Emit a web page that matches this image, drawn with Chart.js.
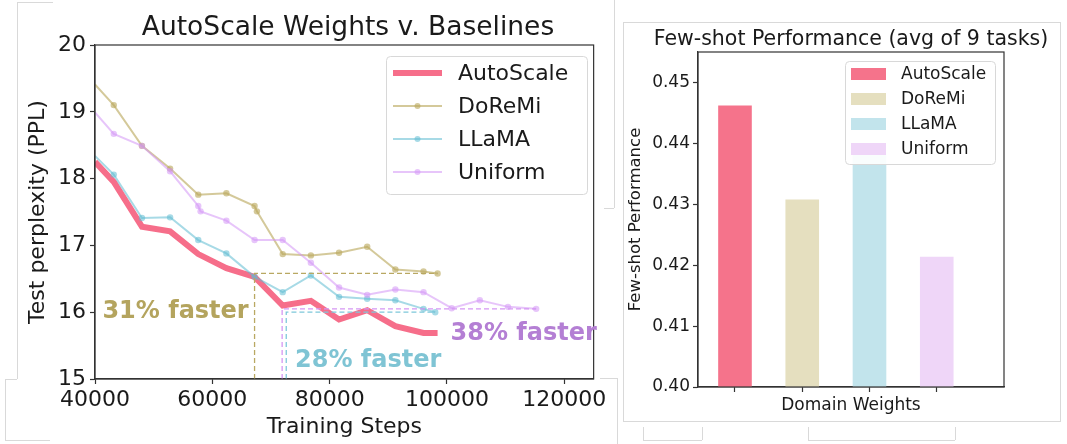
<!DOCTYPE html>
<html>
<head>
<meta charset="utf-8">
<script src="https://cdn.jsdelivr.net/npm/chart.js"></script>
<style>
  html, body { margin: 0; padding: 0; background: #fff; }
  #wrap { position: relative; width: 1067px; height: 444px; overflow: hidden; }
  canvas { position: absolute; top: 0; }
  #lossChart { left: 0; }
  #fewshotChart { left: 610px; }
  .edge { position: absolute; background: #d9d9d9; }
</style>
</head>
<body>
<div id="wrap">
  <div class="edge" style="left:17px;top:2px;width:1px;height:377px"></div>
  <div class="edge" style="left:17px;top:2px;width:36px;height:1px"></div>
  <div class="edge" style="left:5px;top:379px;width:12px;height:1px"></div>
  <div class="edge" style="left:5px;top:379px;width:1px;height:61px"></div>
  <div class="edge" style="left:5px;top:440px;width:45px;height:1px"></div>
  <div class="edge" style="left:614px;top:0px;width:1px;height:208px"></div>
  <div class="edge" style="left:604px;top:208px;width:10px;height:1px"></div>
  <div class="edge" style="left:617px;top:378px;width:1px;height:66px"></div>
  <div class="edge" style="left:600px;top:378px;width:17px;height:1px"></div>
  <div class="edge" style="left:623px;top:22px;width:437px;height:1px"></div>
  <div class="edge" style="left:623px;top:22px;width:1px;height:400px"></div>
  <div class="edge" style="left:1060px;top:22px;width:1px;height:400px"></div>
  <div class="edge" style="left:623px;top:421px;width:437px;height:1px"></div>
  <div class="edge" style="left:643px;top:427px;width:1px;height:13px"></div>
  <div class="edge" style="left:702px;top:427px;width:1px;height:13px"></div>
  <div class="edge" style="left:643px;top:440px;width:59px;height:1px"></div>
  <div class="edge" style="left:808px;top:427px;width:1px;height:13px"></div>
  <div class="edge" style="left:955px;top:427px;width:1px;height:13px"></div>
  <div class="edge" style="left:808px;top:440px;width:147px;height:1px"></div>
  <canvas id="lossChart" width="610" height="444"></canvas>
  <canvas id="fewshotChart" width="457" height="444"></canvas>
</div>
<script>
// ---- data ----
const seriesNames = ["AutoScale", "DoReMi", "LLaMA", "Uniform"];

const autoSteps = [40000, 43200, 48000, 52800, 57600, 62400, 67200, 72000, 76800, 81600, 86400, 91200, 96000, 98400];
const autoPPL = [18.25, 17.95, 17.28, 17.21, 16.87, 16.66, 16.53, 16.10, 16.17, 15.89, 16.03, 15.79, 15.69, 15.69];

const doremiSteps = [40000, 43200, 48000, 52800, 57600, 62400, 67200, 67600, 72000, 76800, 81600, 86400, 91200, 96000, 98400];
const doremiPPL = [19.41, 19.10, 18.49, 18.15, 17.76, 17.78, 17.59, 17.51, 16.87, 16.85, 16.89, 16.98, 16.64, 16.61, 16.58];

const llamaSteps = [40000, 43200, 48000, 52800, 57600, 62400, 67200, 72000, 76800, 81600, 86400, 91200, 96000, 98000];
const llamaPPL = [18.34, 18.06, 17.41, 17.42, 17.08, 16.88, 16.53, 16.30, 16.55, 16.23, 16.20, 16.18, 16.05, 16.00];

const uniformSteps = [40000, 43200, 48000, 52800, 57600, 58000, 62400, 67200, 72000, 76800, 81600, 86400, 91200, 96000, 100800, 105600, 110400, 115200];
const uniformPPL = [18.99, 18.67, 18.49, 18.11, 17.59, 17.51, 17.37, 17.08, 17.08, 16.74, 16.37, 16.26, 16.34, 16.30, 16.06, 16.18, 16.08, 16.05];

// step where AutoScale reaches each baseline's final PPL (DoReMi, LLaMA, Uniform)
const matchSteps = [67200, 72600, 71900];
const speedupLabels = ["31% faster", "28% faster", "38% faster"];

const stepTicks = [40000, 60000, 80000, 100000, 120000];
const pplTicks = [15, 16, 17, 18, 19, 20];

const fewshotScores = [0.4462, 0.4308, 0.4385, 0.4214];
const scoreTicks = [0.40, 0.41, 0.42, 0.43, 0.44, 0.45];

// ---- style ----
Chart.defaults.font.family = '"DejaVu Sans", sans-serif';
Chart.defaults.color = '#1a1a1a';
const INK = '#1a1a1a';
const SPINE = '#333333';

const lineColors = ['rgba(245,98,128,0.92)', 'rgba(185,168,92,0.62)', 'rgba(95,188,210,0.55)', 'rgba(212,150,245,0.55)'];
const guideColors = ['#b9a862', '#7ec8da', '#d596f3'];
const labelColors = ['#b4a45e', '#7fc4d4', '#b47fd4'];
const barColors = ['#f5738b', '#e5dfbf', '#c2e4ec', '#efd6f8'];

function pts(xs, ys) {
    return xs.map(function (x, i) { return {x: x, y: ys[i]}; });
}

function lineDataset(label, steps, ppl, color, width, radius, order) {
    return {
        label: label,
        data: pts(steps, ppl),
        borderColor: color,
        backgroundColor: color,
        pointBackgroundColor: color,
        borderWidth: width,
        pointRadius: function (c) { return c.dataIndex === 0 ? 0 : radius; },
        pointBorderWidth: 0,
        pointHoverRadius: 0,
        tension: 0,
        clip: 0,
        order: order
    };
}

// dashed guide: vertical from the axis floor at the match step, then across at the baseline's final PPL
function guideDataset(steps, ppl, match, color) {
    let level = ppl[ppl.length - 1];
    return {
        data: [{x: match, y: pplTicks[0]}, {x: match, y: level}, {x: steps[steps.length - 1], y: level}],
        borderColor: color,
        borderWidth: 1.3,
        borderDash: [5, 3],
        pointRadius: 0,
        tension: 0,
        clip: 0,
        order: 0
    };
}

const framePlugin = {
    id: 'frame',
    afterDatasetsDraw: function (chart) {
        const ctx = chart.ctx;
        const a = chart.chartArea;
        ctx.save();
        ctx.strokeStyle = SPINE;
        ctx.lineWidth = 1.2;
        ctx.strokeRect(a.left, a.top, a.right - a.left, a.bottom - a.top);
        ctx.restore();
    }
};

function titlePlugin(text, cx, baseline, size) {
    return {
        id: 'title' + String(size).replace('.', '_'),
        afterDraw: function (chart) {
            const ctx = chart.ctx;
            ctx.save();
            ctx.font = size + 'px "DejaVu Sans"';
            ctx.fillStyle = INK;
            ctx.textAlign = 'center';
            ctx.textBaseline = 'alphabetic';
            ctx.fillText(text, cx, baseline);
            ctx.restore();
        }
    };
}

function roundBox(ctx, x, y, w, h, r) {
    ctx.beginPath();
    ctx.moveTo(x + r, y);
    ctx.arcTo(x + w, y, x + w, y + h, r);
    ctx.arcTo(x + w, y + h, x, y + h, r);
    ctx.arcTo(x, y + h, x, y, r);
    ctx.arcTo(x, y, x + w, y, r);
    ctx.closePath();
    ctx.fillStyle = 'rgba(255,255,255,0.9)';
    ctx.fill();
    ctx.strokeStyle = '#d8d8d8';
    ctx.lineWidth = 1;
    ctx.stroke();
}

const lossLegend = {
    id: 'lossLegend',
    afterDraw: function (chart) {
        const ctx = chart.ctx;
        ctx.save();
        roundBox(ctx, 386.5, 56.5, 201, 138, 4);
        seriesNames.forEach(function (name, i) {
            let y = 73 + i * 33;
            ctx.strokeStyle = lineColors[i];
            ctx.lineWidth = i === 0 ? 6 : 2;
            ctx.beginPath();
            ctx.moveTo(393, y);
            ctx.lineTo(442, y);
            ctx.stroke();
            if (i > 0) {
                ctx.fillStyle = lineColors[i];
                ctx.beginPath();
                ctx.arc(417.5, y, 3, 0, Math.PI * 2);
                ctx.fill();
            }
            ctx.fillStyle = INK;
            ctx.font = '22px "DejaVu Sans"';
            ctx.textBaseline = 'middle';
            ctx.fillText(name, 458, y + 1);
        });
        ctx.restore();
    }
};

const speedupPlugin = {
    id: 'speedups',
    afterDatasetsDraw: function (chart) {
        const ctx = chart.ctx;
        const x = chart.scales.x;
        const y = chart.scales.y;
        ctx.save();
        ctx.font = 'bold 24px "DejaVu Sans"';
        ctx.textBaseline = 'middle';
        // DoReMi label left of its guide, LLaMA below, Uniform at the right
        ctx.fillStyle = labelColors[0];
        ctx.textAlign = 'right';
        ctx.fillText(speedupLabels[0], x.getPixelForValue(66200), y.getPixelForValue(16.0));
        ctx.textAlign = 'left';
        ctx.fillStyle = labelColors[1];
        ctx.fillText(speedupLabels[1], x.getPixelForValue(74100), y.getPixelForValue(15.27));
        ctx.fillStyle = labelColors[2];
        ctx.fillText(speedupLabels[2], x.getPixelForValue(100600), y.getPixelForValue(15.68));
        ctx.restore();
    }
};

const fewshotLegend = {
    id: 'fewshotLegend',
    afterDraw: function (chart) {
        const ctx = chart.ctx;
        ctx.save();
        roundBox(ctx, 235.5, 61.5, 150, 103, 4);
        seriesNames.forEach(function (name, i) {
            let y = 74 + i * 25;
            ctx.fillStyle = barColors[i];
            ctx.fillRect(241, y - 6, 35, 12);
            ctx.fillStyle = INK;
            ctx.font = '17px "DejaVu Sans"';
            ctx.textBaseline = 'middle';
            ctx.fillText(name, 291, y + 1);
        });
        ctx.restore();
    }
};

function fixedTicks(values) {
    return function (s) { s.ticks = values.map(function (v) { return {value: v}; }); };
}

// ---- left: perplexity vs steps ----
try {
    new Chart(document.getElementById('lossChart'), {
        type: 'line',
        data: {
            datasets: [
                lineDataset(seriesNames[0], autoSteps, autoPPL, lineColors[0], 6, 0, 5),
                lineDataset(seriesNames[1], doremiSteps, doremiPPL, lineColors[1], 2, 3.2, 4),
                lineDataset(seriesNames[2], llamaSteps, llamaPPL, lineColors[2], 2, 3.2, 3),
                lineDataset(seriesNames[3], uniformSteps, uniformPPL, lineColors[3], 2, 3.2, 2),
                guideDataset(doremiSteps, doremiPPL, matchSteps[0], guideColors[0]),
                guideDataset(llamaSteps, llamaPPL, matchSteps[1], guideColors[1]),
                guideDataset(uniformSteps, uniformPPL, matchSteps[2], guideColors[2])
            ]
        },
        options: {
            responsive: false,
            animation: false,
            layout: {padding: {left: 0, top: 45, right: 12, bottom: 0}},
            plugins: {legend: {display: false}, tooltip: {enabled: false}},
            scales: {
                x: {
                    type: 'linear',
                    min: 40000,
                    max: 125000,
                    afterBuildTicks: fixedTicks(stepTicks),
                    afterFit: function (s) { s.height = 65; },
                    ticks: {callback: function (v) { return String(v); }, font: {size: 22}, color: INK, padding: 3, maxRotation: 0, autoSkip: false},
                    grid: {drawOnChartArea: false, tickLength: 5, color: SPINE, tickWidth: 1.2},
                    border: {color: SPINE, width: 1.2},
                    title: {display: true, text: 'Training Steps', font: {size: 22}, color: INK, padding: {top: 0, bottom: 4}}
                },
                y: {
                    min: 15,
                    max: 20,
                    afterBuildTicks: fixedTicks(pplTicks),
                    afterFit: function (s) { s.width = 95; },
                    ticks: {font: {size: 22}, color: INK, padding: 4},
                    grid: {drawOnChartArea: false, tickLength: 5, color: SPINE, tickWidth: 1.2},
                    border: {color: SPINE, width: 1.2},
                    title: {display: true, text: 'Test perplexity (PPL)', font: {size: 22}, color: INK, padding: {top: 25, bottom: 0}}
                }
            }
        },
        plugins: [framePlugin, speedupPlugin, lossLegend, titlePlugin('AutoScale Weights v. Baselines', 348, 35, 26.5)]
    });
} catch (error) {
    console.log(error.message);
}

// ---- right: few-shot bars ----
try {
    new Chart(document.getElementById('fewshotChart'), {
        type: 'bar',
        data: {
            datasets: [{
                data: fewshotScores.map(function (v, i) { return {x: i, y: v}; }),
                backgroundColor: barColors,
                borderWidth: 0,
                barPercentage: 0.5,
                categoryPercentage: 1
            }]
        },
        options: {
            responsive: false,
            animation: false,
            layout: {padding: {left: 0, top: 52, right: 63, bottom: 0}},
            plugins: {legend: {display: false}, tooltip: {enabled: false}},
            scales: {
                x: {
                    type: 'linear',
                    min: -0.55,
                    max: 4,
                    offset: false,
                    afterBuildTicks: fixedTicks(fewshotScores.map(function (_, i) { return i; })),
                    afterFit: function (s) { s.height = 57; },
                    ticks: {callback: function () { return ''; }, padding: 0},
                    grid: {drawOnChartArea: false, offset: false, tickLength: 5, color: SPINE, tickWidth: 1.2},
                    border: {color: SPINE, width: 1.2},
                    title: {display: true, text: 'Domain Weights', font: {size: 17}, color: INK, padding: {top: 0, bottom: 28}}
                },
                y: {
                    min: 0.40,
                    max: 0.455,
                    afterBuildTicks: fixedTicks(scoreTicks),
                    afterFit: function (s) { s.width = 88; },
                    ticks: {callback: function (v) { return v.toFixed(2); }, font: {size: 17}, color: INK, padding: 3},
                    grid: {drawOnChartArea: false, tickLength: 5, color: SPINE, tickWidth: 1.2},
                    border: {color: SPINE, width: 1.2},
                    title: {display: true, text: 'Few-shot Performance', font: {size: 16.5}, color: INK, padding: {top: 16, bottom: 0}}
                }
            }
        },
        plugins: [framePlugin, fewshotLegend, titlePlugin('Few-shot Performance (avg of 9 tasks)', 241, 45, 20.5)]
    });
} catch (error) {
    console.log(error.message);
}
</script>
</body>
</html>
